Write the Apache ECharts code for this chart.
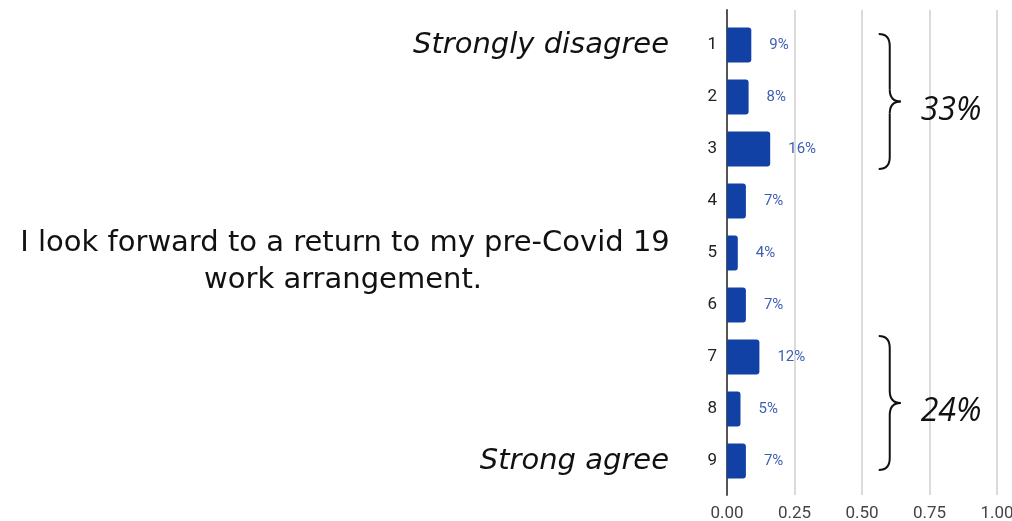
<!DOCTYPE html>
<html>
<head>
<meta charset="utf-8">
<script src="https://cdn.jsdelivr.net/npm/echarts@6/dist/echarts.min.js"></script>
<style>
  html, body { margin: 0; padding: 0; background: #ffffff; }
  #chart { width: 1012px; height: 521px; }
</style>
</head>
<body>
<div id="chart"></div>
<script>
// Likert scale points (1 = strongly disagree, 9 = strong agree)
var categories = ['1', '2', '3', '4', '5', '6', '7', '8', '9'];
// Share of respondents at each scale point
var shares = [0.09, 0.08, 0.16, 0.07, 0.04, 0.07, 0.12, 0.05, 0.07];
// Value-axis ticks
var tickValues = [0, 0.25, 0.5, 0.75, 1];

var questionLines = ['I look forward to a return to my pre-Covid 19', 'work arrangement.'];
var lowLabel = 'Strongly disagree';
var highLabel = 'Strong agree';

// Groups bracketed on the right: indices of first and last scale point
var groups = [[0, 2], [6, 8]];

var chart = echarts.init(document.getElementById('chart'), null, { renderer: 'canvas' });

var pct = function (v) { return Math.round(v * 100) + '%'; };

chart.setOption({
  animation: false,
  backgroundColor: '#ffffff',
  grid: [
    { left: 727, width: 270, top: 19, height: 468, outerBoundsMode: 'none' },
    { left: 727, width: 270, top: 10, height: 485, outerBoundsMode: 'none' }
  ],
  xAxis: [
    { gridIndex: 0, type: 'value', min: 0, max: 1, interval: 0.25, show: false },
    {
      gridIndex: 1, type: 'value', min: tickValues[0], max: tickValues[tickValues.length - 1], interval: 0.25,
      axisLine: { show: false }, axisTick: { show: false },
      splitLine: { show: true, lineStyle: { color: '#cfcfcf', width: 1.5 } },
      axisLabel: {
        margin: 10, color: '#444', fontSize: 17, fontFamily: 'Roboto',
        hideOverlap: false,
        formatter: function (v) { return v.toFixed(2); }
      }
    }
  ],
  yAxis: [
    {
      gridIndex: 0, type: 'category', data: categories, inverse: true,
      axisLine: { show: false }, axisTick: { show: false }, splitLine: { show: false },
      axisLabel: { margin: 10, color: '#222', fontSize: 17, fontFamily: 'Roboto' }
    },
    {
      gridIndex: 1, type: 'value', min: 0, max: 1,
      axisLine: { show: true, lineStyle: { color: '#555', width: 2 } },
      axisTick: { show: false }, axisLabel: { show: false }, splitLine: { show: false }
    }
  ],
  series: [{
    type: 'bar',
    xAxisIndex: 0, yAxisIndex: 0,
    data: shares,
    barWidth: 35,
    z: 3,
    itemStyle: { color: '#1241a6', borderRadius: [0, 3, 3, 0] },
    label: {
      show: true, position: 'right', distance: 18,
      color: '#3d5fb2', fontSize: 15, fontFamily: 'Roboto',
      formatter: function (p) { return pct(p.value); }
    }
  }]
});

// Annotations placed from the axes' own scales
function yOf(i) { return chart.convertToPixel({ gridIndex: 0 }, [0, categories[i]])[1]; }
function xOf(v) { return chart.convertToPixel({ gridIndex: 0 }, [v, categories[0]])[0]; }

var graphics = [];
var textFont = '"DejaVu Sans"';

graphics.push({
  type: 'text', x: 669, y: yOf(0),
  style: { text: lowLabel, font: 'italic 29px ' + textFont, fill: '#111', textAlign: 'right', textVerticalAlign: 'middle' }
});
graphics.push({
  type: 'text', x: 669, y: yOf(categories.length - 1),
  style: { text: highLabel, font: 'italic 29px ' + textFont, fill: '#111', textAlign: 'right', textVerticalAlign: 'middle' }
});
var midY = yOf(4);
graphics.push({
  type: 'text', x: 345, y: midY - 10,
  style: { text: questionLines[0], font: '29px ' + textFont, fill: '#111', textAlign: 'center', textVerticalAlign: 'middle' }
});
graphics.push({
  type: 'text', x: 343, y: midY + 27,
  style: { text: questionLines[1], font: '29px ' + textFont, fill: '#111', textAlign: 'center', textVerticalAlign: 'middle' }
});

// Curly braces with the summed share of each bracketed group
var insets = [[-11, 20], [-21, 9]];
var braceStyle = { stroke: '#111', lineWidth: 2, fill: null };
groups.forEach(function (g, k) {
  var y0 = yOf(g[0]) + insets[k][0];
  var y1 = yOf(g[1]) + insets[k][1];
  var ym = (y0 + y1) / 2;
  var xe = xOf(0.562), xv = xe + 11, xp = xe + 22, r = 12;
  // top hook, upper stem, upper tip, lower tip, lower stem, bottom hook
  graphics.push({ type: 'bezierCurve', shape: { x1: xe, y1: y0, cpx1: xv, cpy1: y0, x2: xv, y2: y0 + r }, style: braceStyle });
  graphics.push({ type: 'line', shape: { x1: xv, y1: y0 + r, x2: xv, y2: ym - r }, style: braceStyle });
  graphics.push({ type: 'bezierCurve', shape: { x1: xv, y1: ym - r, cpx1: xv, cpy1: ym, x2: xp, y2: ym }, style: braceStyle });
  graphics.push({ type: 'bezierCurve', shape: { x1: xp, y1: ym, cpx1: xv, cpy1: ym, x2: xv, y2: ym + r }, style: braceStyle });
  graphics.push({ type: 'line', shape: { x1: xv, y1: ym + r, x2: xv, y2: y1 - r }, style: braceStyle });
  graphics.push({ type: 'bezierCurve', shape: { x1: xv, y1: y1 - r, cpx1: xv, cpy1: y1, x2: xe, y2: y1 }, style: braceStyle });

  var sum = 0;
  for (var i = g[0]; i <= g[1]; i++) sum += shares[i];
  graphics.push({
    type: 'text', x: xp + 20, y: ym + 9,
    style: { text: pct(sum), font: 'italic 32px "Open Sans"', fill: '#111', textAlign: 'left', textVerticalAlign: 'middle' }
  });
});

chart.setOption({ graphic: graphics });
</script>
</body>
</html>
